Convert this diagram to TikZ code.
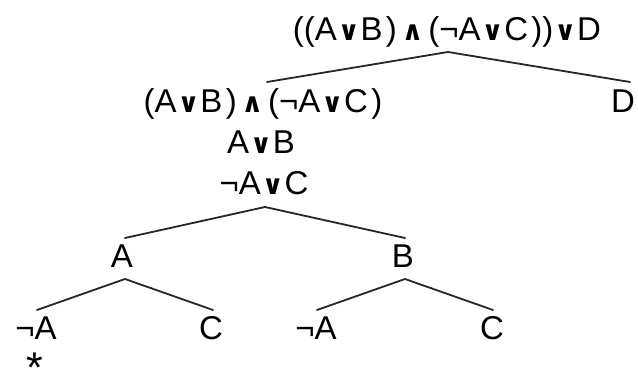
\documentclass[tikz,border=0pt]{standalone}
\usepackage{fontspec}
\setmainfont{Liberation Sans}
\newfontfamily\logicsym{DejaVu Sans}[BoldFont=DejaVu Sans Bold]
% connectives: a small bold glyph centred in a fixed-width slot
\newcommand\lgor{\makebox[0.72em]{\logicsym\bfseries\fontsize{27}{27}\selectfont ∨}}
\newcommand\lgand{\makebox[0.95em]{\logicsym\bfseries\fontsize{27}{27}\selectfont ∧}}
% closing parenthesis set a little apart from what it closes
\newcommand\rpar{\hspace{0.1em})}
\begin{document}
\begin{tikzpicture}[x=1pt,y=1pt,
  lbl/.style={anchor=base,inner sep=0pt,font=\fontsize{33}{36}\selectfont},
  branch/.style={line width=1.8pt,black!85,line cap=round,line join=round}]
\useasboundingbox (0,0) rectangle (638,-374);
% formulas, placed by their baselines
\node[lbl] (root) at (447,-41) {((A\lgor B\rpar\lgand(¬A\lgor C\rpar)\lgor D};
\node[lbl] (conj) at (263,-113) {(A\lgor B\rpar\lgand(¬A\lgor C\rpar};
\node[lbl] (d) at (623,-113) {D};
\node[lbl] (ab) at (261,-154) {A\lgor B};
\node[lbl] (nac) at (264,-195) {¬A\lgor C};
\node[lbl] (a) at (122,-268) {A};
\node[lbl] (b) at (403,-268) {B};
\node[lbl] (l1) at (36,-340) {¬A};
\node[lbl] (l2) at (211,-340) {C};
\node[lbl] (l3) at (316,-340) {¬A};
\node[lbl] (l4) at (492,-340) {C};
\node[anchor=center,inner sep=0pt,font=\fontsize{43}{43}\selectfont] (mark) at (35,-358) {\raisebox{-0.57em}[0.15em][0.15em]{*}};
% fork points and branch ends
\coordinate (rootfork) at (448,-52);
\coordinate (conjtop) at (267,-82);
\coordinate (dtop) at (630,-82);
\coordinate (nacfork) at (265,-207);
\coordinate (atop) at (125,-238);
\coordinate (btop) at (405,-238);
\coordinate (afork) at (125,-279);
\coordinate (l1top) at (37,-310);
\coordinate (l2top) at (213,-310);
\coordinate (bfork) at (405,-279);
\coordinate (l3top) at (317,-310);
\coordinate (l4top) at (493,-310);
% branches
\draw[branch] (conjtop) -- (rootfork) -- (dtop);
\draw[branch] (atop) -- (nacfork) -- (btop);
\draw[branch] (l1top) -- (afork) -- (l2top);
\draw[branch] (l3top) -- (bfork) -- (l4top);
\end{tikzpicture}
\end{document}
